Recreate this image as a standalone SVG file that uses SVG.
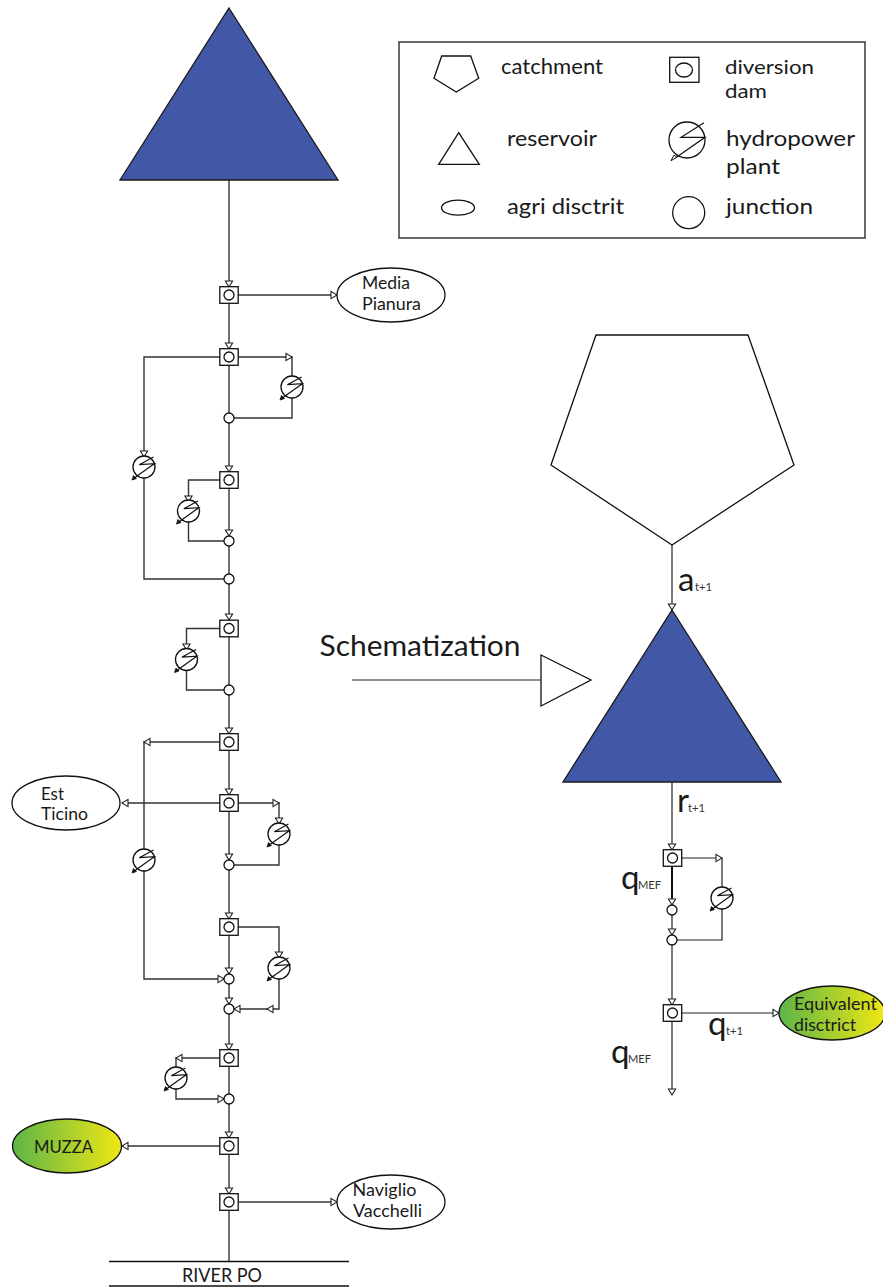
<svg xmlns="http://www.w3.org/2000/svg" width="883" height="1287" viewBox="0 0 883 1287">
<style>
text{font-family:Lato,"Open Sans","Noto Sans",sans-serif;fill:#1a1a1a}
.lg{font-size:21.500px}
.lg2{font-size:19.800px}
.nd{font-size:16.500px}
.q{font-size:33px}
.s{font-size:11.500px;fill:#333}
.sh{fill:#fff;stroke:#111;stroke-width:1.3}
.c{fill:none;stroke:#333;stroke-width:1.4}
.res{fill:#4257a5;stroke:#1a1a1a;stroke-width:1.3}
.ar{fill:#fff;stroke:#222;stroke-width:1.1}
</style>
<defs>
<linearGradient id="gy"><stop offset="0" stop-color="#5cb548"/><stop offset="1" stop-color="#f0e714"/></linearGradient>
<path id="ad" class="ar" d="M-3.600,-6H3.600L0,0Z"/>
<path id="ar" class="ar" d="M-6,-3.600V3.600L0,0Z"/>
<path id="al" class="ar" d="M6,-3.600V3.600L0,0Z"/>
<g id="dam"><rect x="-9.200" y="-8.300" width="18.400" height="16.600" class="sh"/><circle r="5" class="sh"/></g>
<circle id="j" r="5" class="sh"/>
<g id="hp"><circle r="11" class="sh"/><path d="M9.500,-10L-4.700,-2.300L10.300,-3.300L-9,10.500" fill="none" stroke="#111" stroke-width="1.200"/><path d="M-12,13L-10.500,8.500L-7.500,11.500Z" fill="#111" stroke="#111" stroke-width=".8"/></g>
</defs>

<g id="connectors">
<path class="c" d="M229,180V1261"/>
<path class="c" d="M238,295H337"/>
<path class="c" d="M238,357H292V418H234"/>
<path class="c" d="M220,357H144V579H224"/>
<path class="c" d="M220,480H188.500V541H224"/>
<path class="c" d="M220,628.500H186.500V690H224"/>
<path class="c" d="M220,742H144V979H224"/>
<path class="c" d="M220,803H122"/>
<path class="c" d="M238,803H279V865H234"/>
<path class="c" d="M238,927H279V1009H234"/>
<path class="c" d="M220,1058H176V1099H224"/>
<path class="c" d="M220,1146H122"/>
<path class="c" d="M238,1202H337"/>
<path d="M672,545V1095M681,858H722V940H677M681,1013H779M352,680H541" fill="none" stroke="#222" stroke-width="1.200"/>
<path d="M672,858V905" fill="none" stroke="#111" stroke-width="2"/>
<g>
<use href="#ad" x="229" y="287"/><use href="#ad" x="229" y="349"/><use href="#ad" x="229" y="472"/><use href="#ad" x="229" y="536"/><use href="#ad" x="229" y="620"/><use href="#ad" x="229" y="734"/><use href="#ad" x="229" y="795"/><use href="#ad" x="229" y="860"/><use href="#ad" x="229" y="919"/><use href="#ad" x="229" y="974"/><use href="#ad" x="229" y="1004"/><use href="#ad" x="229" y="1050"/><use href="#ad" x="229" y="1138"/><use href="#ad" x="229" y="1194"/>
<use href="#ar" x="337" y="295"/><use href="#ar" x="292" y="357"/><use href="#ad" x="144" y="457"/><use href="#ad" x="188.500" y="502"/><use href="#ad" x="186.500" y="650"/>
<use href="#al" x="144" y="742"/><use href="#al" x="122" y="803"/><use href="#ar" x="279" y="803"/><use href="#ad" x="279" y="824"/><use href="#ad" x="279" y="958"/><use href="#ar" x="224" y="979"/><use href="#al" x="234" y="1009"/><use href="#al" x="267" y="1009"/><use href="#al" x="176" y="1058"/><use href="#ar" x="224" y="1099"/><use href="#al" x="122" y="1146"/><use href="#ar" x="337" y="1202"/>
<use href="#ad" x="672" y="610"/><use href="#ad" x="672" y="850"/><use href="#ad" x="672" y="905"/><use href="#ad" x="672" y="935"/><use href="#ad" x="672" y="1005"/><use href="#ad" x="672" y="1095"/><use href="#ar" x="722" y="858"/><use href="#ar" x="779" y="1013"/>
</g>
</g>

<g id="reservoir-main"><path class="res" d="M229,8L338,180H120Z"/></g>
<g id="dams">
<use href="#dam" x="229" y="295"/><use href="#dam" x="229" y="357"/><use href="#dam" x="229" y="480"/><use href="#dam" x="229" y="628.500"/><use href="#dam" x="229" y="742"/><use href="#dam" x="229" y="803"/><use href="#dam" x="229" y="927"/><use href="#dam" x="229" y="1058"/><use href="#dam" x="229" y="1146"/><use href="#dam" x="229" y="1202"/><use href="#dam" x="672.500" y="858"/><use href="#dam" x="672.500" y="1013"/>
</g>
<g id="junctions">
<use href="#j" x="229" y="418"/><use href="#j" x="229" y="541"/><use href="#j" x="229" y="579"/><use href="#j" x="229" y="690"/><use href="#j" x="229" y="865"/><use href="#j" x="229" y="979"/><use href="#j" x="229" y="1009"/><use href="#j" x="229" y="1099"/><use href="#j" x="672" y="910"/><use href="#j" x="672" y="940"/>
</g>
<g id="hydro">
<use href="#hp" x="292" y="387"/><use href="#hp" x="144" y="467"/><use href="#hp" x="188.500" y="511"/><use href="#hp" x="186.500" y="659.500"/><use href="#hp" x="144" y="860"/><use href="#hp" x="279" y="834"/><use href="#hp" x="279" y="968"/><use href="#hp" x="176" y="1078"/><use href="#hp" x="722" y="898"/>
</g>
<g id="media-pianura"><ellipse cx="391" cy="295" rx="54" ry="27" class="sh"/><text class="nd" x="362" y="289" textLength="48" lengthAdjust="spacingAndGlyphs">Media</text><text class="nd" x="362" y="310" textLength="59" lengthAdjust="spacingAndGlyphs">Pianura</text></g>
<g id="est-ticino"><ellipse cx="66" cy="803" rx="54" ry="27" class="sh"/><text class="nd" x="41" y="800" textLength="23" lengthAdjust="spacingAndGlyphs">Est</text><text class="nd" x="41" y="820" textLength="47" lengthAdjust="spacingAndGlyphs">Ticino</text></g>
<g id="muzza"><ellipse cx="67" cy="1146" rx="54.500" ry="27" fill="url(#gy)" stroke="#111" stroke-width="1.300"/><text class="nd" x="34" y="1153" textLength="59" lengthAdjust="spacingAndGlyphs">MUZZA</text></g>
<g id="naviglio"><ellipse cx="391" cy="1202" rx="54" ry="27" class="sh"/><text class="nd" x="352.500" y="1196" textLength="64" lengthAdjust="spacingAndGlyphs">Naviglio</text><text class="nd" x="353" y="1217" textLength="69" lengthAdjust="spacingAndGlyphs">Vacchelli</text></g>
<g id="equivalent"><ellipse cx="832" cy="1013" rx="53" ry="27" fill="url(#gy)" stroke="#111" stroke-width="1.300"/><text class="nd" x="794" y="1010" textLength="83" lengthAdjust="spacingAndGlyphs">Equivalent</text><text class="nd" x="794" y="1031" textLength="62" lengthAdjust="spacingAndGlyphs">disctrict</text></g>
<g id="catchment-main"><path class="sh" d="M596,335H748L794,465L672,545L551,465Z"/></g>
<g id="reservoir-schematic"><path class="res" d="M672,610L781,782H563Z"/></g>
<g id="schematization"><path class="sh" d="M541,655L591,680L541,706Z"/><text x="319.500" y="656" font-size="28" textLength="201" lengthAdjust="spacingAndGlyphs">Schematization</text></g>
<g id="labels">
<text class="q" x="678" y="591">a</text><text class="s" x="695" y="591" textLength="17" lengthAdjust="spacingAndGlyphs">t+1</text>
<text class="q" x="677" y="812">r</text><text class="s" x="688" y="812" textLength="17" lengthAdjust="spacingAndGlyphs">t+1</text>
<text class="q" x="621" y="889">q</text><text class="s" x="638" y="889" textLength="23" lengthAdjust="spacingAndGlyphs">MEF</text>
<text class="q" x="708" y="1035">q</text><text class="s" x="726" y="1035" textLength="17" lengthAdjust="spacingAndGlyphs">t+1</text>
<text class="q" x="611" y="1063">q</text><text class="s" x="628" y="1063" textLength="23" lengthAdjust="spacingAndGlyphs">MEF</text>
</g>
<g id="river"><path d="M109,1261.500H349M109,1286H349" fill="none" stroke="#111" stroke-width="1.300"/><text x="182" y="1281.500" font-size="19" textLength="80" lengthAdjust="spacingAndGlyphs">RIVER PO</text></g>
<g id="legend">
<rect x="399" y="42" width="466" height="196" fill="#fff" stroke="#1a1a1a" stroke-width="1.300"/>
<path class="sh" d="M441.700,56H470.700L478.700,78.300L456.300,92L434,78.300Z"/>
<path class="sh" d="M458.700,132.700L479.300,164.300H438.700Z"/>
<ellipse class="sh" cx="458" cy="207.700" rx="16.500" ry="7.500"/>
<circle class="sh" cx="688.700" cy="212.700" r="16"/>
<rect class="sh" x="669.700" y="57.300" width="29.300" height="25"/><ellipse class="sh" cx="684" cy="70" rx="8.500" ry="7"/>
<circle class="sh" cx="687" cy="140" r="18"/>
<path d="M704,122.700L681,137.300H705L675,158.300" fill="none" stroke="#111" stroke-width="1.200"/>
<path d="M671,160.700L676.700,157.300L674,155Z" fill="#fff" stroke="#111" stroke-width="1"/>
<text class="lg" x="501" y="74" textLength="102" lengthAdjust="spacingAndGlyphs">catchment</text><text class="lg2" x="725" y="73.500" textLength="89" lengthAdjust="spacingAndGlyphs">diversion</text><text class="lg2" x="725" y="97.500" textLength="42" lengthAdjust="spacingAndGlyphs">dam</text>
<text class="lg" x="507" y="146" textLength="90" lengthAdjust="spacingAndGlyphs">reservoir</text><text class="lg" x="726" y="146" textLength="129" lengthAdjust="spacingAndGlyphs">hydropower</text><text class="lg" x="726" y="174" textLength="54" lengthAdjust="spacingAndGlyphs">plant</text>
<text class="lg" x="507" y="214" textLength="117" lengthAdjust="spacingAndGlyphs">agri disctrit</text><text class="lg" x="726" y="214" textLength="87" lengthAdjust="spacingAndGlyphs">junction</text>
</g>
</svg>
